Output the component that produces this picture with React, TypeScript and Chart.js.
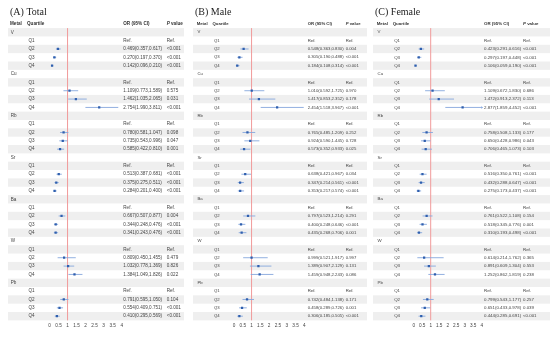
import React, { useEffect, useRef } from "react";
import { Chart, registerables } from "chart.js";
Chart.register(...registerables);

const metals = ["V", "Cu", "Rb", "Sr", "Ba", "W", "Pb"];
const quartiles = ["Q1", "Q2", "Q3", "Q4"];
const xTickValues = [0, 0.5, 1, 1.5, 2, 2.5, 3, 3.5, 4];

// Order per metal: Q2, Q3, Q4
const totalOR = [0.469, 0.27, 0.142, 1.109, 1.462, 2.754, 0.78, 0.735, 0.585, 0.513, 0.375, 0.284, 0.667, 0.344, 0.341, 0.809, 1.032, 1.384, 0.791, 0.554, 0.41];
const totalLo = [0.357, 0.197, 0.096, 0.773, 1.035, 1.99, 0.581, 0.543, 0.422, 0.387, 0.275, 0.201, 0.507, 0.248, 0.243, 0.45, 0.778, 1.049, 0.595, 0.409, 0.295];
const totalHi = [0.617, 0.37, 0.21, 1.589, 2.065, 3.811, 1.047, 0.996, 0.81, 0.681, 0.511, 0.4, 0.877, 0.476, 0.476, 1.455, 1.369, 1.826, 1.05, 0.751, 0.569];
const totalP = ["<0.001", "<0.001", "<0.001", "0.575", "0.031", "<0.001", "0.098", "0.047", "0.001", "<0.001", "<0.001", "<0.001", "0.004", "<0.001", "<0.001", "0.479", "0.826", "0.022", "0.104", "<0.001", "<0.001"];

const maleOR = [0.548, 0.305, 0.184, 1.01, 1.417, 2.454, 0.765, 0.924, 0.573, 0.638, 0.347, 0.353, 0.797, 0.4, 0.435, 0.999, 1.389, 1.459, 0.742, 0.458, 0.306];
const maleLo = [0.363, 0.19, 0.108, 0.592, 0.853, 1.518, 0.485, 0.59, 0.352, 0.421, 0.214, 0.217, 0.523, 0.248, 0.268, 0.521, 0.907, 0.948, 0.484, 0.289, 0.185];
const maleHi = [0.83, 0.488, 0.314, 1.725, 2.352, 3.967, 1.209, 1.445, 0.933, 0.967, 0.561, 0.574, 1.214, 0.646, 0.706, 1.917, 2.129, 2.243, 1.138, 0.726, 0.505];
const maleP = ["0.004", "<0.001", "<0.001", "0.970", "0.178", "<0.001", "0.252", "0.728", "0.025", "0.034", "<0.001", "<0.001", "0.291", "<0.001", "0.001", "0.997", "0.131", "0.086", "0.171", "0.001", "<0.001"];

const femaleOR = [0.423, 0.297, 0.106, 1.109, 1.472, 2.877, 0.758, 0.65, 0.706, 0.516, 0.432, 0.275, 0.761, 0.518, 0.31, 0.614, 0.891, 1.252, 0.799, 0.651, 0.444];
const femaleLo = [0.291, 0.197, 0.059, 0.672, 0.913, 1.859, 0.508, 0.428, 0.465, 0.35, 0.288, 0.173, 0.522, 0.345, 0.193, 0.214, 0.609, 0.862, 0.543, 0.433, 0.285];
const femaleHi = [0.616, 0.448, 0.19, 1.83, 2.372, 4.452, 1.133, 0.986, 1.073, 0.761, 0.647, 0.437, 1.108, 0.776, 0.498, 1.762, 1.304, 1.819, 1.177, 0.978, 0.691];
const femaleP = ["<0.001", "<0.001", "<0.001", "0.686", "0.113", "<0.001", "0.177", "0.043", "0.103", "<0.001", "<0.001", "<0.001", "0.154", "0.001", "<0.001", "0.365", "0.553", "0.238", "0.257", "0.039", "<0.001"];

const panels = [
  { title: "(A) Total", or: totalOR, lo: totalLo, hi: totalHi, p: totalP, fs: 4.6,
    left: 0, width: 184, titleX: 10, metalX: 10, qX: 27, orX: 123.3, pX: 166.7, bandL: 8, bandR: 184, padL: 49.5, padR: 62.3 },
  { title: "(B) Male", or: maleOR, lo: maleLo, hi: maleHi, p: maleP, fs: 4.25,
    left: 184, width: 183, titleX: 195, metalX: 196.7, qX: 212.5, orX: 307.7, pX: 345.7, bandL: 193, bandR: 367, padL: 50, padR: 62.7 },
  { title: "(C) Female", or: femaleOR, lo: femaleLo, hi: femaleHi, p: femaleP, fs: 4.4,
    left: 367, width: 183, titleX: 375, metalX: 376.7, qX: 392.7, orX: 484, pX: 523, bandL: 373, bandR: 550, padL: 46.7, padR: 68.3 },
];

const TICKFS = 4.7;
const SANS = '"Liberation Sans", Arial, sans-serif';
const ROWS = metals.length * 5;

function makePlugin(cfg: any) {
  const off = cfg.left;
  const fs = cfg.fs;
  return {
    id: "forest",
    beforeDatasetsDraw(chart: any) {
      const ctx = chart.ctx;
      const y = chart.scales.y;
      const x = chart.scales.x;
      const area = chart.chartArea;
      ctx.save();
      ctx.fillStyle = "#efefef";
      for (let r = 0; r < ROWS; r += 2) {
        const t = y.getPixelForValue(r - 0.5);
        const b = y.getPixelForValue(r + 0.5);
        ctx.fillRect(cfg.bandL - off, t, cfg.bandR - cfg.bandL, b - t);
      }
      const x1 = x.getPixelForValue(1);
      ctx.strokeStyle = "#f19a9a";
      ctx.lineWidth = 1;
      ctx.beginPath();
      ctx.moveTo(x1, area.top);
      ctx.lineTo(x1, area.bottom);
      ctx.stroke();
      ctx.strokeStyle = "#86a7dc";
      ctx.lineWidth = 0.9;
      metals.forEach((m, mi) => {
        for (let k = 0; k < 3; k++) {
          const idx = mi * 3 + k;
          const row = mi * 5 + 2 + k;
          const yy = y.getPixelForValue(row);
          const xa = x.getPixelForValue(Math.max(cfg.lo[idx], 0));
          const xb = x.getPixelForValue(Math.min(cfg.hi[idx], 4));
          ctx.beginPath();
          ctx.moveTo(xa, yy);
          ctx.lineTo(xb, yy);
          ctx.stroke();
          if (cfg.hi[idx] > 4) {
            ctx.beginPath();
            ctx.moveTo(xb + 1.5, yy);
            ctx.lineTo(xb - 0.5, yy - 1.2);
            ctx.lineTo(xb - 0.5, yy + 1.2);
            ctx.closePath();
            ctx.fillStyle = "#86a7dc";
            ctx.fill();
          }
        }
      });
      ctx.restore();
    },
    afterDraw(chart: any) {
      const ctx = chart.ctx;
      const y = chart.scales.y;
      ctx.save();
      ctx.textBaseline = "middle";
      ctx.textAlign = "left";
      ctx.fillStyle = "#222";
      ctx.font = '10px "Liberation Serif", "Times New Roman", serif';
      ctx.fillText(cfg.title, cfg.titleX - off, 12);
      const hy = y.getPixelForValue(-1);
      ctx.fillStyle = "#333";
      ctx.font = `bold ${fs}px ${SANS}`;
      ctx.fillText("Metal", cfg.metalX - off, hy);
      ctx.fillText("Quartile", cfg.qX - off, hy);
      ctx.fillText("OR (95% CI)", cfg.orX - off, hy);
      ctx.font = `italic bold ${fs}px ${SANS}`;
      ctx.fillText("P", cfg.pX - off, hy);
      const pw = ctx.measureText("P ").width;
      ctx.font = `bold ${fs}px ${SANS}`;
      ctx.fillText("value", cfg.pX - off + pw, hy);
      ctx.font = `${fs}px ${SANS}`;
      ctx.fillStyle = "#444";
      metals.forEach((m, mi) => {
        ctx.fillText(m, cfg.metalX - off + 0.8, y.getPixelForValue(mi * 5));
        quartiles.forEach((q, qi) => {
          const row = mi * 5 + 1 + qi;
          const yy = y.getPixelForValue(row);
          ctx.fillText(q, cfg.qX - off + 1.5, yy);
          if (qi === 0) {
            ctx.fillText("Ref.", cfg.orX - off, yy);
            ctx.fillText("Ref.", cfg.pX - off, yy);
          } else {
            const idx = mi * 3 + qi - 1;
            const s = `${cfg.or[idx].toFixed(3)}(${cfg.lo[idx].toFixed(3)},${cfg.hi[idx].toFixed(3)})`;
            ctx.fillText(s, cfg.orX - off, yy);
            ctx.fillText(cfg.p[idx], cfg.pX - off, yy);
          }
        });
      });
      ctx.restore();
    },
  };
}

export default function App() {
  const refs = [useRef<HTMLCanvasElement>(null), useRef<HTMLCanvasElement>(null), useRef<HTMLCanvasElement>(null)];
  useEffect(() => {
    const charts = panels.map((cfg, i) => {
      const points: { x: number; y: number }[] = [];
      metals.forEach((m, mi) => {
        for (let k = 0; k < 3; k++) points.push({ x: cfg.or[mi * 3 + k], y: mi * 5 + 2 + k });
      });
      return new Chart(refs[i].current as HTMLCanvasElement, {
        type: "scatter",
        data: {
          datasets: [
            {
              data: points,
              pointStyle: "rect",
              pointRadius: 1.6,
              backgroundColor: "#2f5fae",
              borderColor: "#2f5fae",
              borderWidth: 0,
            },
          ],
        },
        options: {
          responsive: false,
          maintainAspectRatio: false,
          devicePixelRatio: 1,
          animation: false,
          layout: { padding: { left: cfg.padL, right: cfg.padR, top: 28.1, bottom: 7 } },
          plugins: { legend: { display: false }, tooltip: { enabled: false } },
          scales: {
            x: {
              type: "linear",
              min: 0,
              max: 4,
              afterBuildTicks: (s: any) => {
                s.ticks = xTickValues.map((v) => ({ value: v }));
              },
              grid: { display: false, drawTicks: false },
              border: { display: false },
              ticks: {
                autoSkip: false,
                maxRotation: 0,
                minRotation: 0,
                padding: 3,
                color: "#444",
                font: { size: TICKFS, family: SANS },
                callback: (v: any) => String(v),
              },
            },
            y: { type: "linear", min: -0.5, max: ROWS - 0.5, reverse: true, display: false },
          },
        },
        plugins: [makePlugin(cfg)],
      } as any);
    });
    return () => charts.forEach((c) => c.destroy());
  }, []);
  return (
    <div style={{ position: "fixed", left: 0, top: 0, width: 550, height: 339, background: "#fff", overflow: "hidden" }}>
      {panels.map((cfg, i) => (
        <canvas
          key={i}
          ref={refs[i]}
          width={cfg.width}
          height={339}
          style={{ position: "absolute", left: cfg.left, top: 0, width: cfg.width, height: 339 }}
        />
      ))}
    </div>
  );
}
